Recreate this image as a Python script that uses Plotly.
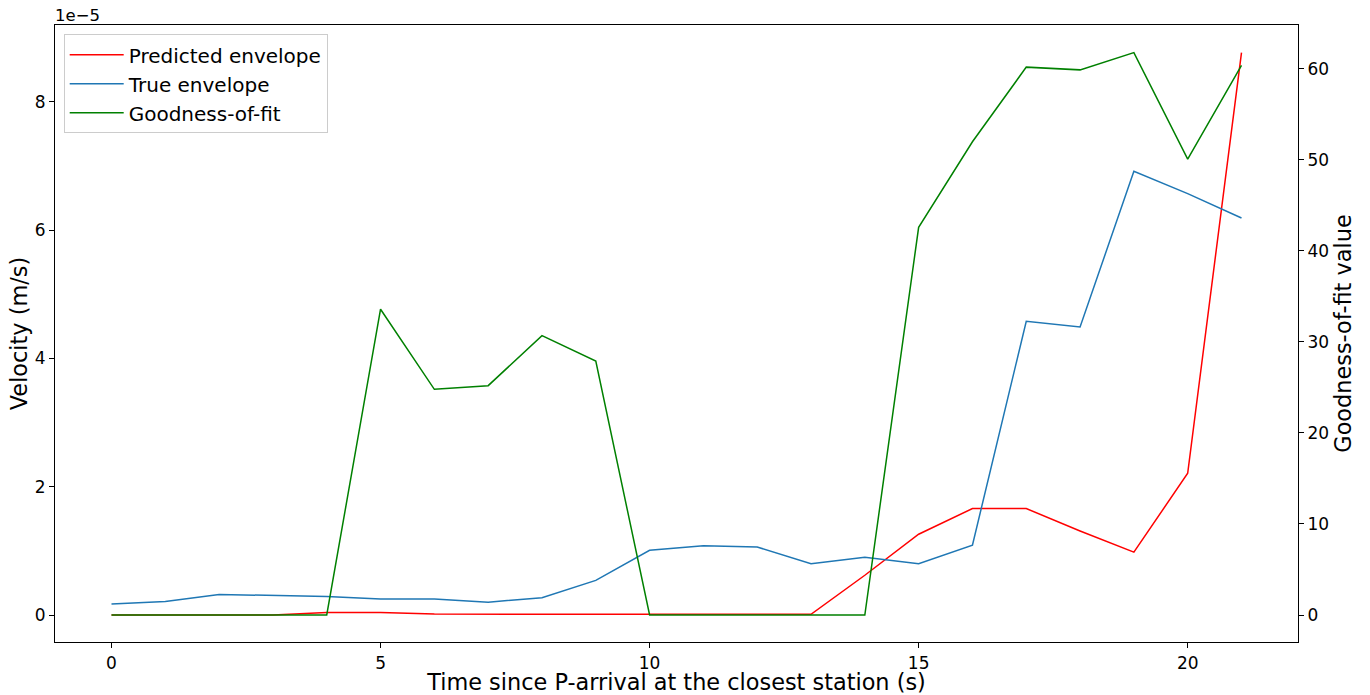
import plotly.graph_objects as go

time_s = list(range(22))
predicted = [0.0, 0.0, 0.0, 0.0, 0.04, 0.04, 0.015, 0.01, 0.01, 0.01, 0.01, 0.01, 0.01, 0.01,
             0.62, 1.26, 1.66, 1.66, 1.31, 0.98, 2.21, 8.77]
true_env = [0.17, 0.21, 0.32, 0.31, 0.29, 0.25, 0.25, 0.20, 0.27, 0.54, 1.01, 1.08, 1.06, 0.80,
            0.90, 0.80, 1.09, 4.58, 4.49, 6.92, 6.57, 6.19]
gof = [0, 0, 0, 0, 0, 33.6, 24.8, 25.2, 30.7, 27.9, 0, 0, 0, 0, 0,
       42.6, 52.0, 60.2, 59.9, 61.8, 50.1, 60.4]
scale = 1e-5
vel_ticks = [0, 2, 4, 6, 8]
gof_ticks = [0, 10, 20, 30, 40, 50, 60]

font = "DejaVu Sans"
fig = go.Figure()
fig.add_trace(go.Scatter(x=time_s, y=[v * scale for v in predicted], mode="lines",
                         name="Predicted envelope", line=dict(color="#ff0000", width=1.5)))
fig.add_trace(go.Scatter(x=time_s, y=[v * scale for v in true_env], mode="lines",
                         name="True envelope", line=dict(color="#1f77b4", width=1.5)))
fig.add_trace(go.Scatter(x=time_s, y=gof, mode="lines", name="Goodness-of-fit",
                         line=dict(color="#008000", width=1.5), yaxis="y2"))

axis_common = dict(showgrid=False, zeroline=False, showline=True, linecolor="black",
                   linewidth=1.2, ticks="outside", ticklen=5, tickcolor="black",
                   automargin=False,
                   tickfont=dict(family=font, size=17, color="black"))

fig.update_layout(
    width=1370, height=695,
    margin=dict(l=55, r=72, t=25, b=53),
    plot_bgcolor="white", paper_bgcolor="white",
    font=dict(family=font, color="black"),
    xaxis=dict(range=[-1.05, 22.05], tickvals=[0, 5, 10, 15, 20], mirror=True,
               title=dict(text="Time since P-arrival at the closest station (s)",
                          font=dict(size=22.4), standoff=8),
               **axis_common),
    yaxis=dict(range=[-0.421 * scale, 9.2 * scale], tickvals=[t * scale for t in vel_ticks],
               ticktext=[str(t) for t in vel_ticks],
               title=dict(text="Velocity (m/s)", font=dict(size=22.4), standoff=0),
               **axis_common),
    yaxis2=dict(range=[-2.967, 64.83], tickvals=gof_ticks, overlaying="y", side="right",
                title=dict(text="Goodness-of-fit value", font=dict(size=22.4), standoff=7),
                **axis_common),
    legend=dict(x=0.007, y=0.985, xanchor="left", yanchor="top",
                bordercolor="#cccccc", borderwidth=1, bgcolor="rgba(255,255,255,0.8)",
                font=dict(family=font, size=20), tracegroupgap=0, itemwidth=54),
    showlegend=True,
    annotations=[dict(text="1e\u22125", x=0, y=1, xref="paper", yref="paper",
                      xanchor="left", yanchor="bottom", showarrow=False,
                      font=dict(family=font, size=16.5), yshift=-2, xshift=-2)],
)

fig.write_html("out.html", config={"displayModeBar": False},
               post_script="document.body.style.margin='0';")
